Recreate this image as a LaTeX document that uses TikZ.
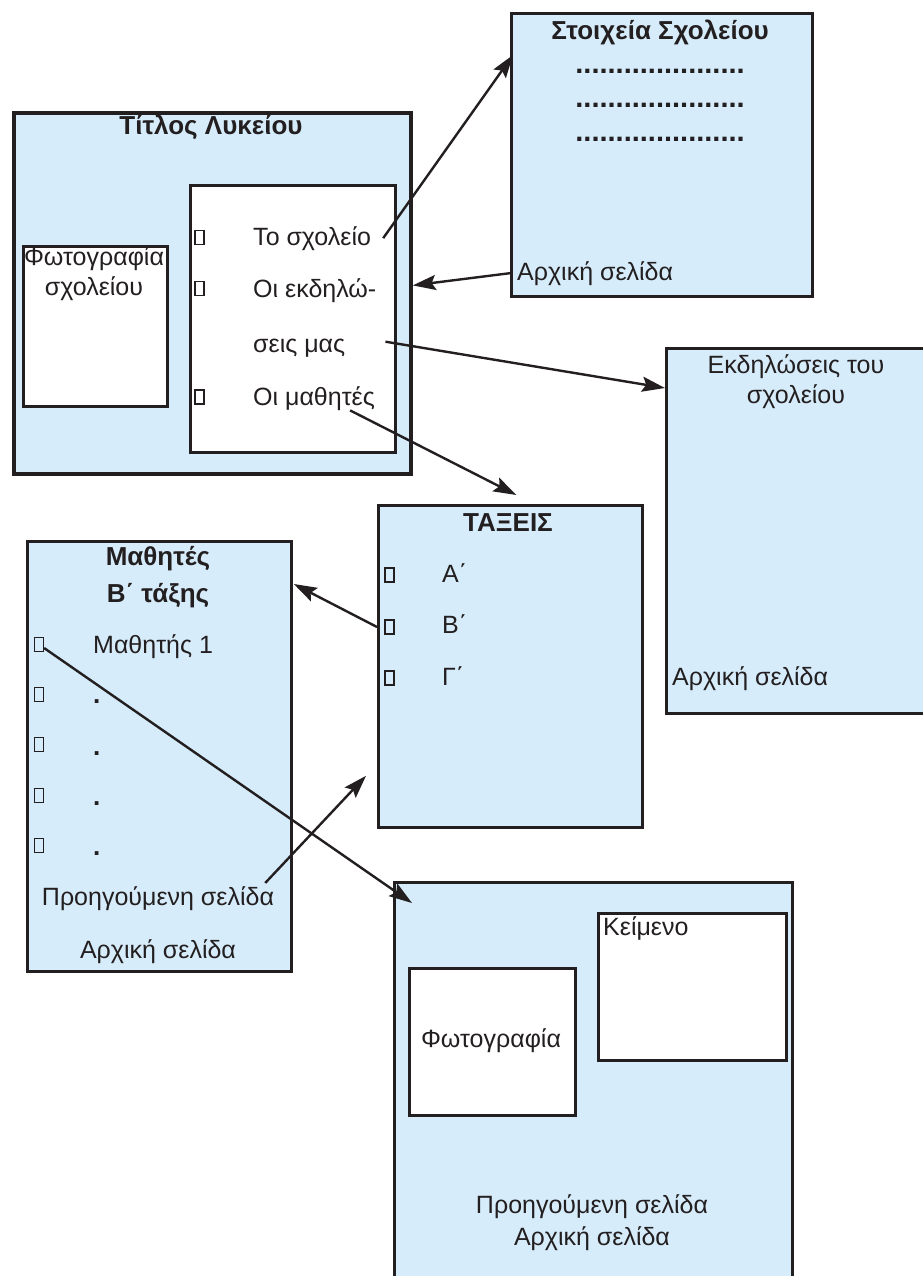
\documentclass[tikz,border=0pt]{standalone}
\usepackage{fontspec}
\setmainfont{Liberation Sans}
\usetikzlibrary{arrows.meta}

\definecolor{pagefill}{RGB}{214,236,250}
\definecolor{ink}{RGB}{35,31,32}
\newcommand{\picfont}{\fontsize{25}{30}\selectfont}

\tikzset{
  page/.style={draw=ink, line width=2.8pt, fill=pagefill, anchor=north west, inner sep=0pt},
  frame/.style={page, fill=white},
  txt/.style={font=\picfont, text=ink, inner sep=0pt, anchor=base},
  head/.style={txt, font=\fontsize{26}{30}\selectfont\bfseries},
  dotrow/.style={txt, font=\fontsize{29}{30}\selectfont\bfseries},
  glyphbox/.style={draw=ink, line width=1.2pt, minimum width=9pt, minimum height=14pt, inner sep=0pt},
  link/.style={-{Stealth[length=23pt,width=15pt,inset=4pt]}, draw=ink, line width=2.4pt}
}

\begin{document}
\begin{tikzpicture}[x=1pt, y=-1pt]
  \useasboundingbox (0,0) rectangle (922,1276);

  % home page
  \node[page, line width=3.8pt, minimum width=397, minimum height=361] (lyk) at (12,111) {};
  \node[frame, minimum width=144, minimum height=160] (photo) at (22,245) {};
  \node[frame, minimum width=205, minimum height=267] (menu) at (189,184) {};
  \node[head] (lyktitle) at (211,135) {Τίτλος Λυκείου};
  \node[txt] (photo1) at (94,265) {Φωτογραφία};
  \node[txt] (photo2) at (94,295) {σχολείου};
  \node[glyphbox] (b1) at (199.5,237.5) {};
  \node[glyphbox] (b2) at (199.5,288.5) {};
  \node[glyphbox] (b3) at (199.5,397) {};
  \node[txt, anchor=base west] (sch) at (253,245) {Το σχολείο};
  \node[txt, anchor=base west] (evt) at (253,297) {Οι εκδηλώ-};
  \node[txt, anchor=base west] (mas) at (253,352) {σεις μας};
  \node[txt, anchor=base west] (std) at (253,405) {Οι μαθητές};

  % school details
  \node[page, minimum width=301, minimum height=283] (stoix) at (510,12) {};
  \node[head] (stoixtitle) at (660,40) {Στοιχεία Σχολείου};
  \node[dotrow] (dots1) at (660,74) {.....................};
  \node[dotrow] (dots2) at (660,108) {.....................};
  \node[dotrow] (dots3) at (660,142) {.....................};
  \node[txt, anchor=base west] (home1) at (517,280) {Αρχική σελίδα};

  % school events
  \node[page, minimum width=290, minimum height=365] (ekd) at (665,347) {};
  \node[txt] (ekd1) at (796,373) {Εκδηλώσεις του};
  \node[txt] (ekd2) at (796,403) {σχολείου};
  \node[txt, anchor=base west] (home2) at (672,685) {Αρχική σελίδα};

  % classes
  \node[page, minimum width=264, minimum height=322] (taxeis) at (377,504) {};
  \node[head] (taxtitle) at (508,531) {ΤΑΞΕΙΣ};
  \node[glyphbox] (bA) at (389.5,575) {};
  \node[glyphbox] (bB) at (389.5,627) {};
  \node[glyphbox] (bG) at (389.5,678) {};
  \node[txt, anchor=base west] (clA) at (442,582) {Α΄};
  \node[txt, anchor=base west] (clB) at (442,633) {Β΄};
  \node[txt, anchor=base west] (clG) at (442,685) {Γ΄};

  % students of B
  \node[page, minimum width=264, minimum height=430] (math) at (26,540) {};
  \node[head] (mathtitle1) at (158,565) {Μαθητές};
  \node[head] (mathtitle2) at (158,602) {Β΄ τάξης};
  \node[glyphbox] (m1) at (39,644.5) {};
  \node[glyphbox] (m2) at (39,694.5) {};
  \node[glyphbox] (m3) at (39,744.5) {};
  \node[glyphbox] (m4) at (39,795.5) {};
  \node[glyphbox] (m5) at (39,845.5) {};
  \node[txt, anchor=base west] (st1) at (93,653) {Μαθητής 1};
  \node[head, anchor=base west] (st2) at (93,703) {.};
  \node[head, anchor=base west] (st3) at (93,755) {.};
  \node[head, anchor=base west] (st4) at (93,805) {.};
  \node[head, anchor=base west] (st5) at (93,855) {.};
  \node[txt] (prev1) at (158,905) {Προηγούμενη σελίδα};
  \node[txt] (home3) at (158,958) {Αρχική σελίδα};

  % one student
  \node[page, minimum width=398, minimum height=420] (detail) at (393,881) {};
  \node[frame, minimum width=166, minimum height=147] (dphoto) at (408,967) {};
  \node[frame, minimum width=188, minimum height=147] (dtext) at (597,912) {};
  \node[txt] (dphoto1) at (491,1047) {Φωτογραφία};
  \node[txt, anchor=base west] (dtext1) at (603,935) {Κείμενο};
  \node[txt] (prev2) at (592,1213) {Προηγούμενη σελίδα};
  \node[txt] (home4) at (592,1245) {Αρχική σελίδα};

  \draw[link] ([xshift=12pt]sch.east) -- ([shift={(3pt,-43pt)}]stoix.north west);
  \draw[link] (stoix.west |- home1) -- ([yshift=8pt]lyk.east);
  \draw[link] ([shift={(40pt,6pt)}]mas.east) -- ([yshift=-41pt]ekd.north west);
  \draw[link] ([xshift=-25pt]std.south east) -- ([shift={(6pt,9pt)}]taxeis.north);
  \draw[link] (taxeis.west |- bB) -- ([shift={(1pt,-44pt)}]math.north east);
  \draw[link] (m1) -- ([shift={(19pt,-22pt)}]detail.north west);
  \draw[link] ([shift={(-9pt,3pt)}]prev1.north east) -- ([shift={(-11pt,53pt)}]taxeis.south west);
\end{tikzpicture}
\end{document}
